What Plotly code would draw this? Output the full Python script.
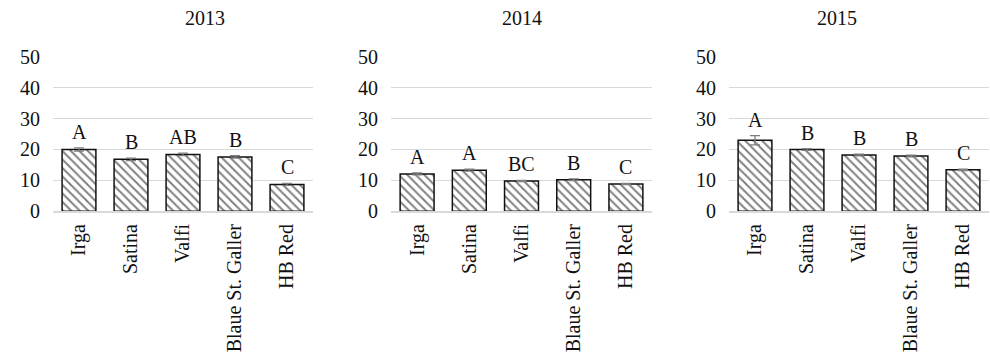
import plotly.graph_objects as go

categories = ["Irga", "Satina", "Valfi", "Blaue St. Galler", "HB Red"]
years = ["2013", "2014", "2015"]
values_2013 = [20.0, 16.8, 18.4, 17.6, 8.7]
values_2014 = [12.1, 13.3, 9.8, 10.2, 8.8]
values_2015 = [23.0, 20.0, 18.2, 17.9, 13.4]
errors_2013 = [0.5, 0.4, 0.4, 0.4, 0.3]
errors_2014 = [0.3, 0.3, 0.2, 0.3, 0.2]
errors_2015 = [1.5, 0.3, 0.3, 0.3, 0.2]
letters_2013 = ["A", "B", "AB", "B", "C"]
letters_2014 = ["A", "A", "BC", "B", "C"]
letters_2015 = ["A", "B", "B", "B", "C"]
y_ticks = [0, 10, 20, 30, 40, 50]

values = [values_2013, values_2014, values_2015]
errors = [errors_2013, errors_2014, errors_2015]
letters = [letters_2013, letters_2014, letters_2015]

FONT = "Liberation Serif"
FS = 20
H = 358
y_bottom = (H - 211.3) / H
y_top = (H - 56.7) / H
domains = [(53 / 990, 313 / 990), (391 / 990, 652 / 990), (729 / 990, 989 / 990)]

fig = go.Figure()
for i in range(3):
    xa = "x" if i == 0 else f"x{i+1}"
    ya = "y" if i == 0 else f"y{i+1}"
    fig.add_trace(go.Bar(
        x=categories, y=values[i], xaxis=xa, yaxis=ya,
        width=0.65,
        marker=dict(color="white", line=dict(color="#111111", width=1.5),
                    pattern=dict(shape="\\", fgcolor="#000000", bgcolor="white",
                                 size=6, solidity=0.32)),
        error_y=dict(type="data", array=errors[i], color="#7f7f7f", thickness=1.3, width=5),
        showlegend=False,
    ))
    for c, v, e, t in zip(categories, values[i], errors[i], letters[i]):
        fig.add_annotation(x=c, y=v + e, xref=xa, yref=ya, text=t, showarrow=False,
                           yanchor="bottom", yshift=3, font=dict(family=FONT, size=FS, color="#111"))
    d = domains[i]
    fig.add_annotation(x=(d[0] + d[1]) / 2, y=(H - 18) / H, xref="paper", yref="paper",
                       text=years[i], showarrow=False, yanchor="middle",
                       font=dict(family=FONT, size=FS, color="#111"))
    xkey = "xaxis" if i == 0 else f"xaxis{i+1}"
    ykey = "yaxis" if i == 0 else f"yaxis{i+1}"
    fig.update_layout({
        xkey: dict(domain=list(d), anchor=ya, tickangle=-90, showgrid=False, ticks="",
                   showline=True, linecolor="#d9d9d9", linewidth=1.5, ticklabelstandoff=3,
                   automargin=False,
                   tickfont=dict(family=FONT, size=FS, color="#111")),
        ykey: dict(domain=[y_bottom, y_top], anchor=xa, range=[0, 50], tickvals=y_ticks,
                   showgrid=True, gridcolor="#d9d9d9", gridwidth=1.3, zeroline=False,
                   ticks="", showline=False, ticklabelstandoff=12, automargin=False,
                   tickfont=dict(family=FONT, size=FS, color="#111")),
    })

fig.update_layout(width=990, height=358, margin=dict(l=0, r=0, t=0, b=0),
                  plot_bgcolor="white", paper_bgcolor="white", bargap=0.35)
fig.write_html("out.html")
